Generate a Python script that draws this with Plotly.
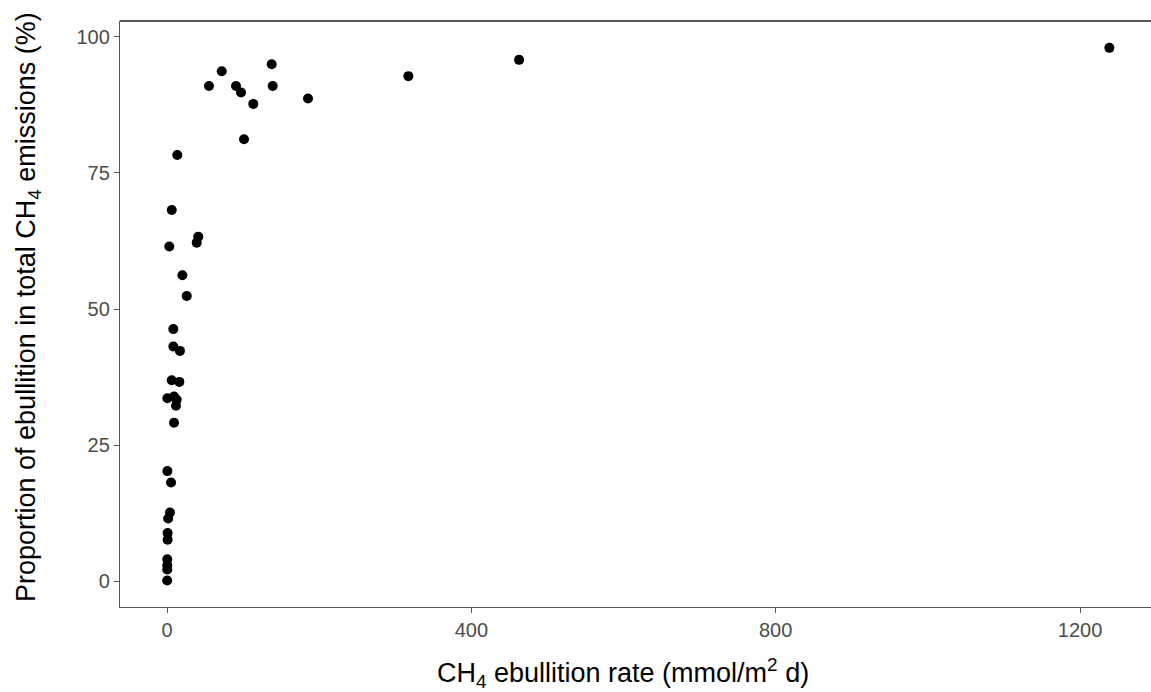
import plotly.graph_objects as go

# CH4 ebullition rate (mmol/m2 d) and share of ebullition in total CH4 emissions (%)
ebullition_rate = [
    1238.6, 462.7, 317.2, 185.3, 137.6, 138.9, 113.4, 97.3, 90.7, 101.2,
    71.9, 55.2, 13.5, 6.2, 41.1, 39.0, 3.0, 20.2, 25.9, 8.3,
    8.3, 17.0, 6.2, 16.2, 0.5, 9.2, 12.7, 11.8, 9.2, 0.5,
    5.3, 3.9, 1.5, 0.8, 0.8, 0.3, 0.3, 0.3, 0.2,
]
ebullition_share = [
    98.0, 95.8, 92.8, 88.7, 95.0, 91.0, 87.7, 89.8, 91.0, 81.2,
    93.7, 91.0, 78.3, 68.2, 63.3, 62.2, 61.5, 56.2, 52.4, 46.3,
    43.1, 42.3, 36.9, 36.6, 33.6, 33.9, 33.3, 32.2, 29.1, 20.2,
    18.1, 12.6, 11.5, 8.8, 7.6, 4.0, 2.9, 2.1, 0.1,
]

x_ticks = [0, 400, 800, 1200]
y_ticks = [0, 25, 50, 75, 100]

fig = go.Figure(
    go.Scatter(
        x=ebullition_rate,
        y=ebullition_share,
        mode="markers",
        marker=dict(color="black", size=10, line=dict(width=0)),
        showlegend=False,
        hoverinfo="x+y",
    )
)

frame_color = "#555555"
tick_font = dict(family="Liberation Sans, Arial, sans-serif", size=20, color="#4D4D4D")
title_font = dict(family="Liberation Sans, Arial, sans-serif", size=27, color="black")

axis_common = dict(
    showgrid=False,
    zeroline=False,
    showline=True,
    linecolor=frame_color,
    linewidth=1.3,
    mirror=False,
    ticks="outside",
    ticklen=5,
    tickwidth=1.2,
    tickcolor=frame_color,
    tickfont=tick_font,
)

fig.update_xaxes(
    range=[-61.8, 1293.3],
    tickvals=x_ticks,
    ticktext=[str(v) for v in x_ticks],
    **axis_common,
)
fig.update_yaxes(
    range=[-4.78, 102.94],
    tickvals=y_ticks,
    ticktext=[str(v) for v in y_ticks],
    **axis_common,
)

# top border of the panel (the right side runs off the page)
fig.add_shape(
    type="line", xref="paper", yref="paper",
    x0=0, x1=1, y0=1, y1=1,
    line=dict(color=frame_color, width=2),
)

fig.add_annotation(
    text="CH<sub>4</sub> ebullition rate (mmol/m<sup>2</sup> d)",
    xref="paper", yref="paper",
    x=0.488, y=-0.113,
    xanchor="center", yanchor="middle",
    showarrow=False,
    font=title_font,
)
fig.add_annotation(
    text="Proportion of ebullition in total CH<sub>4</sub> emissions (%)",
    xref="paper", yref="paper",
    x=-0.0892, y=0.512,
    xanchor="center", yanchor="middle",
    textangle=-90,
    showarrow=False,
    font=title_font,
)

fig.update_layout(
    width=1151,
    height=692,
    margin=dict(l=120, r=0, t=21, b=85),
    plot_bgcolor="white",
    paper_bgcolor="white",
)

fig.write_html("out.html")
